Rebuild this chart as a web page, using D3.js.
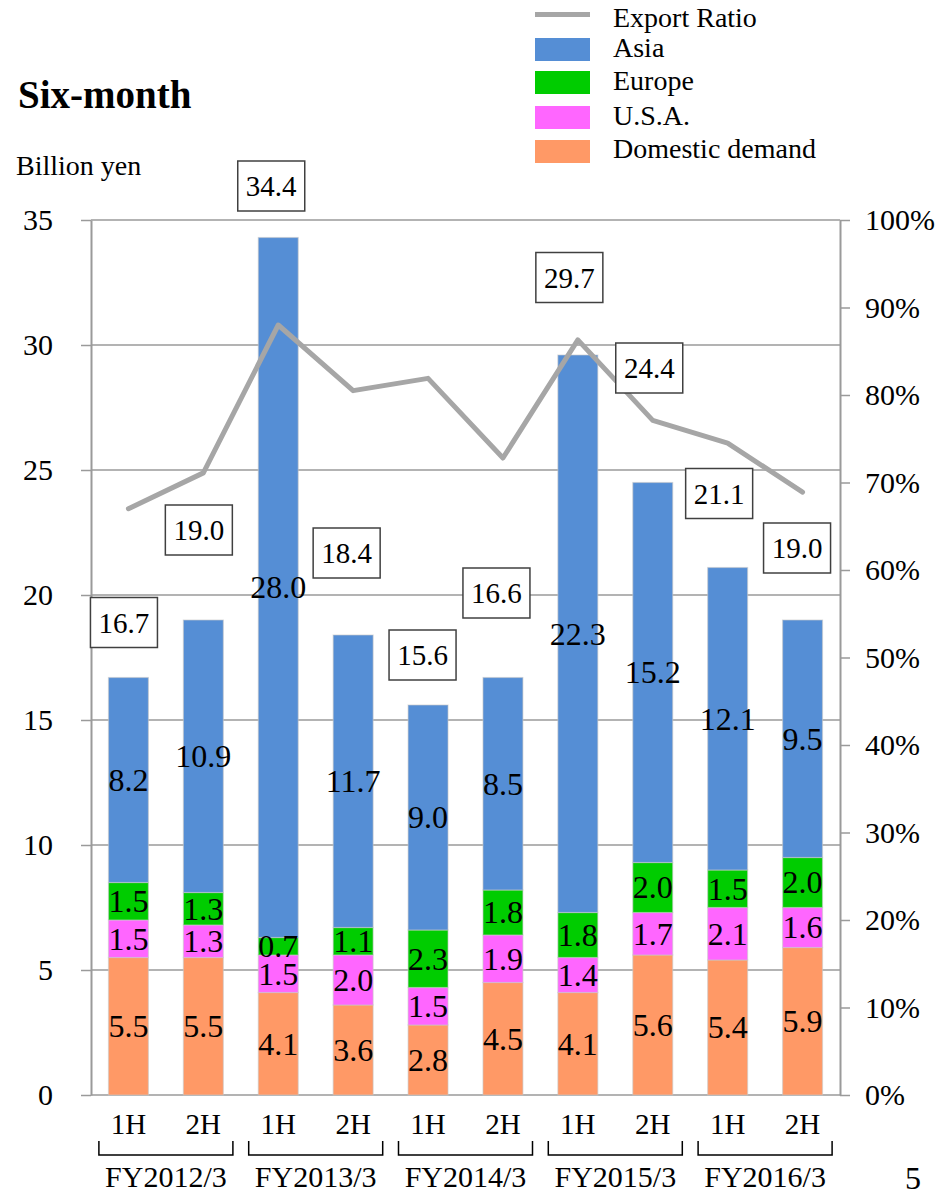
<!DOCTYPE html>
<html>
<head>
<meta charset="utf-8">
<script src="https://cdn.jsdelivr.net/npm/d3@7"></script>
<style>
  html, body { margin: 0; padding: 0; background: #fff; }
  svg { display: block; font-family: "Liberation Serif", "Times New Roman", serif; }
</style>
</head>
<body>
<svg id="chart" width="943" height="1195"></svg>
<script>
// Half-year periods and fiscal-year groups
const periods = ["1H", "2H", "1H", "2H", "1H", "2H", "1H", "2H", "1H", "2H"];
const fiscalYears = ["FY2012/3", "FY2013/3", "FY2014/3", "FY2015/3", "FY2016/3"];

// Sales by region, billion yen (stacked bottom to top)
const domestic = [5.5, 5.5, 4.1, 3.6, 2.8, 4.5, 4.1, 5.6, 5.4, 5.9];
const usa      = [1.5, 1.3, 1.5, 2.0, 1.5, 1.9, 1.4, 1.7, 2.1, 1.6];
const europe   = [1.5, 1.3, 0.7, 1.1, 2.3, 1.8, 1.8, 2.0, 1.5, 2.0];
const asia     = [8.2, 10.9, 28.0, 11.7, 9.0, 8.5, 22.3, 15.2, 12.1, 9.5];

// Period totals, billion yen
const totals = [16.7, 19.0, 34.4, 18.4, 15.6, 16.6, 29.7, 24.4, 21.1, 19.0];

// Export ratio (share of overseas sales)
const exportRatio = [0.670, 0.711, 0.880, 0.805, 0.819, 0.728, 0.863, 0.771, 0.745, 0.689];

// Axis ticks
const leftTicks = [0, 5, 10, 15, 20, 25, 30, 35];
const rightTicks = [0, 0.1, 0.2, 0.3, 0.4, 0.5, 0.6, 0.7, 0.8, 0.9, 1.0];

const series = [
  { name: "Domestic demand", values: domestic, color: "#FF9966" },
  { name: "U.S.A.",          values: usa,      color: "#FF66FF" },
  { name: "Europe",          values: europe,   color: "#00CC00" },
  { name: "Asia",            values: asia,     color: "#558ED5" }
];

// Placement of the total boxes relative to each bar's centre and top
const totalBoxOffsets = [
  [-4.5, -55], [-4.5, -90], [-7, -49], [-6.5, -82], [-5.5, -50],
  [-6.5, -87], [-8.5, -75], [-3.5, -117], [-8.5, -74], [-5.5, -72]
];

const serif = '"Liberation Serif", "Times New Roman", serif';
const svg = d3.select("#chart");
const plotLeft = 91, plotRight = 840, plotTop = 220, plotBottom = 1095;
const gridColor = "#9a9a9a";

const x = d3.scaleBand()
  .domain(d3.range(periods.length))
  .range([plotLeft, plotRight])
  .paddingInner(0.4667)
  .paddingOuter(0.2333);
const y = d3.scaleLinear().domain([0, 35]).range([plotBottom, plotTop]);
const y2 = d3.scaleLinear().domain([0, 1]).range([plotBottom, plotTop]);

// Horizontal gridlines
svg.append("g").selectAll("line")
  .data(leftTicks)
  .join("line")
  .attr("x1", plotLeft).attr("x2", plotRight)
  .attr("y1", d => y(d)).attr("y2", d => y(d))
  .attr("stroke", gridColor).attr("stroke-width", 1.5);

// Left axis
const gL = svg.append("g")
  .attr("transform", `translate(${plotLeft},0)`)
  .call(d3.axisLeft(y).tickValues(leftTicks).tickSize(10).tickPadding(28).tickSizeOuter(0));
gL.select(".domain").attr("stroke", gridColor).attr("stroke-width", 2);
gL.selectAll(".tick line").attr("stroke", gridColor).attr("stroke-width", 1.5);
gL.selectAll(".tick text").attr("font-size", 30).attr("fill", "#000");

// Right axis
const gR = svg.append("g")
  .attr("transform", `translate(${plotRight},0)`)
  .call(d3.axisRight(y2).tickValues(rightTicks).tickFormat(d3.format(".0%")).tickSize(10).tickPadding(15).tickSizeOuter(0));
gR.select(".domain").attr("stroke", gridColor).attr("stroke-width", 2);
gR.selectAll(".tick line").attr("stroke", gridColor).attr("stroke-width", 1.5);
gR.selectAll(".tick text").attr("font-size", 30).attr("fill", "#000");

// Stacked bars
const rows = periods.map((p, i) => {
  const r = { i };
  series.forEach(s => { r[s.name] = s.values[i]; });
  return r;
});
const stack = d3.stack().keys(series.map(s => s.name));
const layers = stack(rows);

const barG = svg.append("g");
layers.forEach((layer, k) => {
  barG.append("g").selectAll("rect")
    .data(layer)
    .join("rect")
    .attr("x", d => x(d.data.i))
    .attr("width", x.bandwidth())
    .attr("y", d => y(d[1]))
    .attr("height", d => y(d[0]) - y(d[1]))
    .attr("fill", series[k].color)
    .attr("stroke", "rgba(200,200,200,0.55)")
    .attr("stroke-width", 1.2);
});

// Export ratio line
const line = d3.line()
  .x((d, i) => x(i) + x.bandwidth() / 2)
  .y(d => y2(d));
svg.append("path")
  .datum(exportRatio)
  .attr("d", line)
  .attr("fill", "none")
  .attr("stroke", "#A6A6A6")
  .attr("stroke-width", 5)
  .attr("stroke-linejoin", "round")
  .attr("stroke-linecap", "round");

// Segment value labels
layers.forEach((layer, k) => {
  svg.append("g").selectAll("text")
    .data(layer)
    .join("text")
    .attr("x", d => x(d.data.i) + x.bandwidth() / 2)
    .attr("y", d => (y(d[0]) + y(d[1])) / 2)
    .attr("dy", "0.34em")
    .attr("text-anchor", "middle")
    .attr("font-size", 32)
    .attr("fill", "#000")
    .text((d, i) => series[k].values[i].toFixed(1));
});

// Total boxes
const boxW = 67, boxH = 50;
const boxG = svg.append("g").selectAll("g")
  .data(totals)
  .join("g")
  .attr("transform", (d, i) => {
    const cx = x(i) + x.bandwidth() / 2 + totalBoxOffsets[i][0];
    const cy = y(d) + totalBoxOffsets[i][1];
    return `translate(${cx},${cy})`;
  });
boxG.append("rect")
  .attr("x", -boxW / 2).attr("y", -boxH / 2)
  .attr("width", boxW).attr("height", boxH)
  .attr("fill", "#fff")
  .attr("stroke", "#404040").attr("stroke-width", 1.5);
boxG.append("text")
  .attr("text-anchor", "middle")
  .attr("dy", "0.35em")
  .attr("font-size", 29)
  .attr("fill", "#000")
  .text(d => d.toFixed(1));

// Period labels
svg.append("g").selectAll("text")
  .data(periods)
  .join("text")
  .attr("x", (d, i) => x(i) + x.bandwidth() / 2)
  .attr("y", 1134)
  .attr("text-anchor", "middle")
  .attr("font-size", 29)
  .attr("fill", "#000")
  .text(d => d);

// Fiscal-year brackets and labels
const groupCenter = g => (x(2 * g) + x(2 * g + 1) + x.bandwidth()) / 2;
const bracketHalf = 67;
const brG = svg.append("g").selectAll("g")
  .data(fiscalYears)
  .join("g");
brG.append("path")
  .attr("d", (d, g) => {
    const c = groupCenter(g);
    return `M${c - bracketHalf},1141 V1155 H${c + bracketHalf} V1141`;
  })
  .attr("fill", "none")
  .attr("stroke", "#000")
  .attr("stroke-width", 1.5);
brG.append("text")
  .attr("x", (d, g) => groupCenter(g))
  .attr("y", 1187)
  .attr("text-anchor", "middle")
  .attr("font-size", 30)
  .attr("fill", "#000")
  .text(d => d);

// Title and unit
svg.append("text")
  .attr("x", 18).attr("y", 108)
  .attr("font-size", 39).attr("font-weight", "bold")
  .attr("fill", "#000")
  .text("Six-month");
svg.append("text")
  .attr("x", 16).attr("y", 175)
  .attr("font-size", 28)
  .attr("fill", "#000")
  .text("Billion yen");

// Legend
const legendX = 535, legendTextX = 613;
const legend = svg.append("g");
legend.append("line")
  .attr("x1", legendX).attr("x2", legendX + 55)
  .attr("y1", 14.5).attr("y2", 14.5)
  .attr("stroke", "#A6A6A6").attr("stroke-width", 5);
legend.append("text")
  .attr("x", legendTextX).attr("y", 27)
  .attr("font-size", 28).attr("fill", "#000")
  .text("Export Ratio");
const legendItems = [series[3], series[2], series[1], series[0]];
const legendRectY = [38, 71, 106, 140];
const legendTextY = [57, 90, 125, 158];
legendItems.forEach((s, i) => {
  legend.append("rect")
    .attr("x", legendX).attr("y", legendRectY[i])
    .attr("width", 55).attr("height", 23)
    .attr("fill", s.color);
  legend.append("text")
    .attr("x", legendTextX).attr("y", legendTextY[i])
    .attr("font-size", 28).attr("fill", "#000")
    .text(s.name);
});

// Page number
svg.append("text")
  .attr("x", 905).attr("y", 1189)
  .attr("font-size", 32).attr("fill", "#000")
  .text("5");

// One serif face for every label, including the axis ticks
svg.selectAll("text").style("font-family", serif);
</script>
</body>
</html>
